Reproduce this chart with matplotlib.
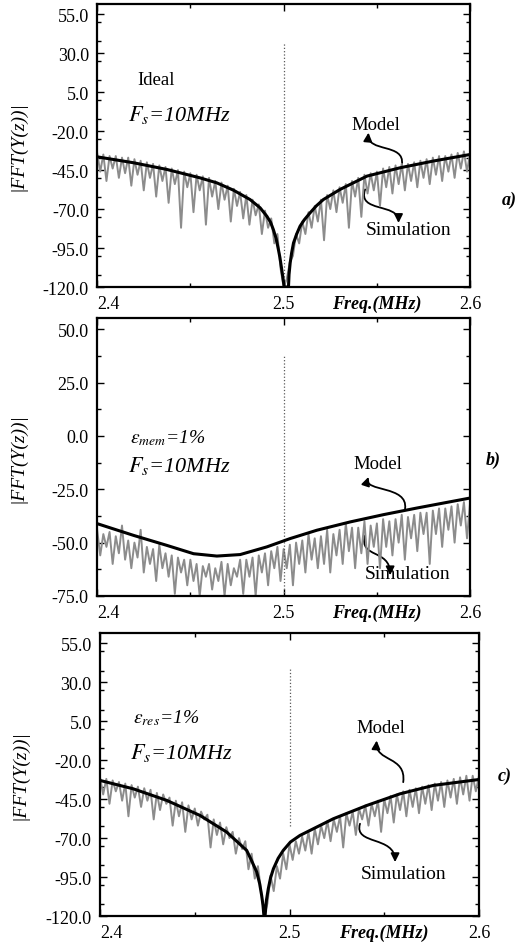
import numpy as np
import matplotlib
matplotlib.use("Agg")
import matplotlib.pyplot as plt
from matplotlib.path import Path
from matplotlib.patches import FancyArrowPatch
from matplotlib.ticker import MultipleLocator

plt.rcParams['font.family'] = ['Liberation Serif', 'DejaVu Serif']
plt.rcParams['mathtext.fontset'] = 'stix'

# ---- data (dB vs MHz) ----
xticks = [2.4, 2.5, 2.6]
xticklabels = ['2.4', '2.5', '2.6']

yticks_a = [-120.0, -95.0, -70.0, -45.0, -20.0, 5.0, 30.0, 55.0]
yticks_b = [-75.0, -50.0, -25.0, 0.0, 25.0, 50.0]
yticks_c = [-120.0, -95.0, -70.0, -45.0, -20.0, 5.0, 30.0, 55.0]

# model curves
model_a_f = [2.400, 2.4195, 2.4374, 2.4552, 2.4642, 2.4731, 2.482, 2.4874, 2.491,
             2.493, 2.4945, 2.496, 2.4972, 2.498, 2.499, 2.4995, 2.5003,
             2.5026, 2.5029, 2.5035, 2.5043, 2.5053, 2.507, 2.5088, 2.511,
             2.5142, 2.5175, 2.5213, 2.5303, 2.5446, 2.5625, 2.5803, 2.600]
model_a_db = [-36.5, -40.3, -44.6, -50.0, -53.2, -57.9, -63.9, -69.2, -74.6,
              -78.5, -83.2, -89.0, -96.0, -101.0, -108.9, -113.0, -120.0,
              -120.0, -112.0, -104.6, -98.0, -91.7, -86.0, -81.0, -77.0,
              -72.4, -68.0, -63.9, -57.4, -48.9, -43.5, -39.2, -35.0]

model_b_f = [2.400, 2.4195, 2.4374, 2.4517, 2.4642, 2.4767, 2.491, 2.5035,
             2.5178, 2.5357, 2.5535, 2.5714, 2.600]
model_b_db = [-41.1, -46.6, -51.3, -55.2, -56.3, -55.6, -52.0, -48.1,
              -44.2, -40.3, -36.9, -33.8, -29.1]

model_c_f = [2.400, 2.4176, 2.4352, 2.4528, 2.4668, 2.4774, 2.4800, 2.4827, 2.4842,
             2.4853, 2.486, 2.4865, 2.4871, 2.4878, 2.4888, 2.4900, 2.4915, 2.494,
             2.4967, 2.5005, 2.5055, 2.5231, 2.5407, 2.5583, 2.5759, 2.600]
model_c_db = [-33.0, -38.4, -45.8, -55.5, -66.1, -77.9, -84.5, -91.8, -99.0,
              -106.8, -113.0, -120.0, -120.0, -110.0, -102.5, -95.5, -89.7, -83.0,
              -77.9, -72.5, -68.3, -57.6, -49.1, -41.6, -36.2, -32.4]

# simulated spectra (evenly spaced bins from 2.4 to 2.6 MHz)
sim_a = [-34, -46, -35, -52, -36, -44, -36, -50, -37, -47,
         -37, -55, -38, -48, -39, -58, -40, -50, -41, -62,
         -42, -52, -43, -66, -44, -54, -45, -82, -46, -56,
         -47, -72, -48, -58, -49, -80, -50, -62, -52, -70,
         -53, -64, -55, -78, -57, -68, -59, -76, -61, -80,
         -64, -74, -67, -86, -71, -82, -76, -92, -86, -108,
         -120,
         -115, -104, -100, -86, -92, -78, -86, -72, -82, -68,
         -78, -64, -90, -61, -70, -58, -72, -56, -66, -54,
         -82, -52, -62, -50, -75, -48, -60, -47, -58, -46,
         -68, -44, -56, -43, -60, -42, -54, -41, -58, -41,
         -52, -40, -56, -39, -50, -38, -54, -37, -48, -36,
         -52, -36, -46, -35, -50, -34, -44, -33, -46, -34]

sim_b = [-44, -56, -46, -52, -45, -60, -47, -55, -42, -58, -49, -62,
         -50, -57, -44, -64, -52, -60, -53, -68, -51, -62, -55, -66,
         -56, -74, -57, -64, -58, -70, -58, -68, -60, -75, -61, -66,
         -60, -72, -62, -68, -59, -75, -60, -70, -62, -66, -58, -74,
         -58, -66, -57, -75, -56, -64, -55, -70, -54, -62, -52, -68,
         -53, -62, -51, -70, -50, -60, -49, -64, -46, -58, -48, -62,
         -47, -60, -44, -64, -46, -56, -44, -60, -41, -54, -43, -62,
         -43, -55, -40, -60, -42, -52, -41, -62, -39, -52, -40, -56,
         -39, -50, -37, -58, -38, -48, -37, -54, -36, -46, -36, -60,
         -35, -46, -34, -52, -34, -44, -33, -50, -32, -42, -31, -48,
         -31]

sim_c = [-31, -42, -32, -48, -33, -40, -34, -46, -35, -56, -36, -44,
         -37, -50, -38, -46, -39, -58, -41, -52, -42, -48, -44, -62,
         -46, -56, -47, -66, -49, -58, -51, -62, -53, -58, -55, -76,
         -58, -68, -60, -74, -63, -70, -66, -80, -70, -77, -72, -90,
         -80, -96, -88, -104, -120, -112, -94, -104, -88, -96, -80, -90,
         -74, -84, -72, -80, -69, -78, -66, -80, -64, -74, -62, -70,
         -59, -72, -58, -66, -56, -76, -54, -62, -53, -68, -51, -58,
         -49, -62, -48, -56, -46, -66, -45, -54, -43, -60, -42, -52,
         -40, -56, -39, -50, -38, -54, -37, -48, -36, -52, -35, -46,
         -34, -50, -33, -44, -32, -48, -31, -42, -30, -46, -30, -40,
         -30]

# carrier tone at 2.5 MHz
carrier_f = 2.5
carrier_top = [37, 38, 40]
carrier_bottom = [-120, -75, -62]


def arrow(ax, pts):
    """ curved annotation arrow through 4 bezier points """
    path = Path(pts, [Path.MOVETO, Path.CURVE4, Path.CURVE4, Path.CURVE4])
    ax.add_patch(FancyArrowPatch(path=path, arrowstyle='-|>,head_length=5,head_width=2.5',
                                 lw=1.3, color='k', shrinkA=0, shrinkB=0))


def panel(rect, model_f, model_db, sim, ylim, yticks, ctop, cbot):
    ax = fig.add_axes(rect)
    f = np.linspace(2.4, 2.6, len(sim))
    ax.plot(f, sim, color='0.55', lw=1.4)
    ax.vlines(carrier_f, cbot, ctop, colors='0.35', linestyles=':', lw=0.9)
    ax.plot(model_f, model_db, color='k', lw=2.2)
    ax.set_xlim(2.4, 2.6)
    ax.set_ylim(*ylim)
    ax.set_xticks(xticks)
    ax.set_xticklabels(xticklabels, fontsize=13)
    ax.get_xticklabels()[0].set_ha('left')
    ax.set_yticks(yticks)
    ax.set_yticklabels(['%.1f' % v for v in yticks], fontsize=13)
    ax.xaxis.set_minor_locator(MultipleLocator(0.05))
    ax.yaxis.set_minor_locator(MultipleLocator(12.5))
    ax.tick_params(which='both', direction='in', top=True, right=True, width=1)
    ax.tick_params(which='major', length=5, pad=6)
    ax.tick_params(which='minor', length=3)
    for s in ax.spines.values():
        s.set_linewidth(1.6)
    ax.set_ylabel('|FFT(Y(z))|', fontsize=14, style='italic')
    ax.yaxis.set_label_coords(-0.19, 0.5)
    ax.annotate('Freq.(MHz)', xy=(0.75, 0), xycoords='axes fraction',
                xytext=(0, -12), textcoords='offset points',
                ha='center', va='center', fontsize=13, weight='bold', style='italic')
    return ax


fig = plt.figure(figsize=(5.25, 9.45), dpi=100)

# a) ideal
ax = panel([0.185, 0.6952, 0.7105, 0.2995], model_a_f, model_a_db, sim_a,
           (-120, 61.5), yticks_a, carrier_top[0], carrier_bottom[0])
ax.text(2.4213, 13.2, 'Ideal', fontsize=13.5, va='center')
ax.text(2.4168, -9.2, r'$F_s$=10MHz', fontsize=16, style='italic', va='center')
ax.text(2.5496, -15.7, 'Model', fontsize=13.5, ha='center', va='center')
ax.text(2.5668, -83.2, 'Simulation', fontsize=14, ha='center', va='center')
arrow(ax, [(2.5634, -41.4), (2.5652, -27.5), (2.5446, -33.9), (2.5455, -21.0)])
arrow(ax, [(2.5437, -57.4), (2.5392, -72.4), (2.5616, -66.0), (2.5616, -78.9)])
fig.text(0.971, 0.788, 'a)', fontsize=13, weight='bold', style='italic', ha='center', va='center')

# b) memory mismatch
ax = panel([0.185, 0.3683, 0.7105, 0.2942], model_b_f, model_b_db, sim_b,
           (-75, 55.3), yticks_b, carrier_top[1], carrier_bottom[1])
ax.text(2.4177, -0.5, r'$\varepsilon_{mem}$=1%', fontsize=14, style='italic', va='center')
ax.text(2.4168, -13.75, r'$F_s$=10MHz', fontsize=16, style='italic', va='center')
ax.text(2.5508, -13.0, 'Model', fontsize=13.5, ha='center', va='center')
ax.text(2.5667, -64.5, 'Simulation', fontsize=14, ha='center', va='center')
arrow(ax, [(2.5651, -34.1), (2.5669, -23.1), (2.5428, -26.3), (2.5455, -19.2)])
arrow(ax, [(2.5437, -46.6), (2.5401, -57.5), (2.5571, -52.8), (2.5571, -65.3)])
fig.text(0.939, 0.513, 'b)', fontsize=13, weight='bold', style='italic', ha='center', va='center')

# c) resistor mismatch
ax = panel([0.1905, 0.0296, 0.7219, 0.2995], model_c_f, model_c_db, sim_c,
           (-120, 61.6), yticks_c, carrier_top[2], carrier_bottom[2])
ax.text(2.4176, 7.6, r'$\varepsilon_{res}$=1%', fontsize=14, style='italic', va='center')
ax.text(2.4158, -14.9, r'$F_s$=10MHz', fontsize=16, style='italic', va='center')
ax.text(2.5483, 1.2, 'Model', fontsize=13.5, ha='center', va='center')
ax.text(2.5600, -92.9, 'Simulation', fontsize=14, ha='center', va='center')
arrow(ax, [(2.5600, -34.1), (2.5618, -17.0), (2.5451, -21.3), (2.5460, -7.4)])
arrow(ax, [(2.5372, -60.8), (2.5337, -74.7), (2.5557, -68.3), (2.5557, -85.4)])
fig.text(0.962, 0.178, 'c)', fontsize=13, weight='bold', style='italic', ha='center', va='center')

fig.savefig('out.png', dpi=100)
